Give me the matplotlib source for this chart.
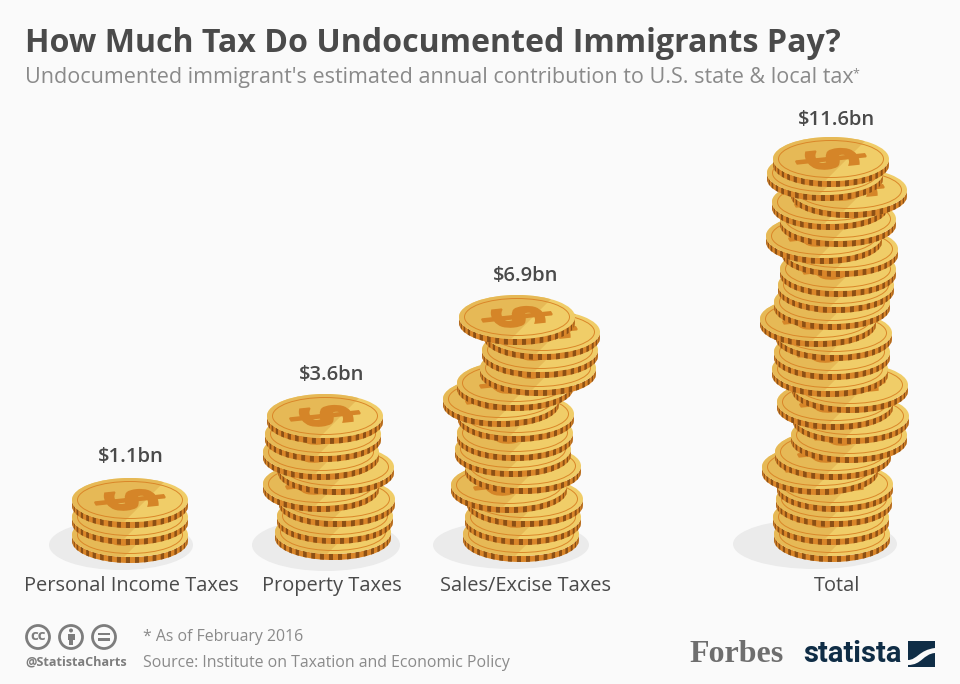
import numpy as np
import matplotlib
matplotlib.use('Agg')
import matplotlib.pyplot as plt
from matplotlib.patches import Ellipse, Circle, Polygon, PathPatch, Rectangle
from matplotlib.path import Path
from matplotlib.textpath import TextPath
from matplotlib.font_manager import FontProperties
from matplotlib.transforms import Affine2D

categories = ['Personal Income Taxes', 'Property Taxes', 'Sales/Excise Taxes', 'Total']
values = [1.1, 3.6, 6.9, 11.6]
coin_counts = [3, 8, 14, 24]

# layout, top coin first
label_x = [131, 332, 526, 837]
label_y = [457, 375, 276, 120]
coin_x = [
    [130, 130, 130],
    [325, 323, 321, 336, 321, 337, 335, 333],
    [517, 542, 540, 538, 515, 501, 516, 515, 513, 523, 509, 525, 523, 521],
    [831, 825, 849, 830, 838, 824, 840, 838, 836, 832, 818, 834, 832, 830,
     850, 835, 851, 849, 833, 820, 835, 834, 831, 832],
]
coin_bottom = [
    [528, 545, 563],
    [444, 462, 480, 495, 512, 527, 544, 560],
    [345, 360, 378, 396, 411, 427, 442, 461, 477, 494, 513, 527, 545, 562],
    [187, 201, 218, 230, 247, 264, 277, 297, 313, 330, 347, 361, 380, 397,
     413, 430, 444, 463, 480, 495, 512, 527, 545, 562],
]
shadows = [(121, 545, 144, 50), (326, 545, 148, 52), (511, 545, 156, 48), (815, 544, 164, 50)]

BG = '#fafafa'
DARK = '#4a4a4a'
GREY = '#8a8a8a'
FACE = '#f0cd68'
SHADE = '#e6b956'
ORANGE = '#da8629'
BROWN = '#8c5015'
A, B, RIM = 58, 22, 6

dollar_path = TextPath((0, 0), '$', size=1, prop=FontProperties(family='DejaVu Sans', weight='bold'))


def draw_dollar(ax, cx, cy):
    box = dollar_path.get_extents()
    tr = (Affine2D()
          .translate(-(box.x0 + box.x1) / 2, -(box.y0 + box.y1) / 2)
          .rotate_deg(-76)
          .scale(78, -33)
          .translate(cx, cy))
    ax.add_patch(PathPatch(tr.transform_path(dollar_path), fc='#d58528', ec='#d58528', lw=1.3))


def draw_coin(ax, cx, cy):
    # rim, lower half of the ellipse with stripes
    t = np.linspace(0, np.pi, 60)
    top = np.column_stack([cx + A * np.cos(t), cy + B * np.sin(t)])
    ax.add_patch(Polygon(np.vstack([top, top[::-1] + [0, RIM]]), fc=ORANGE, ec='none'))
    edges = np.linspace(0, np.pi, 21)
    for a0, a1 in zip(edges[:-1], edges[1:]):
        tt = np.linspace(a0, a0 + (a1 - a0) * 0.45, 4)
        seg = np.column_stack([cx + A * np.cos(tt), cy + B * np.sin(tt)])
        ax.add_patch(Polygon(np.vstack([seg, seg[::-1] + [0, RIM]]), fc=BROWN, ec='none'))
    # face
    face = Ellipse((cx, cy), 2 * A, 2 * B, fc=FACE, ec='none')
    ax.add_patch(face)
    shade = Polygon([(cx - 62, cy - 26), (cx + 42, cy - 26), (cx - 8, cy + 24), (cx - 62, cy + 24)],
                    fc=SHADE, ec='none')
    ax.add_patch(shade)
    shade.set_clip_path(face)
    ax.add_patch(Ellipse((cx, cy), 2 * A - 11, 2 * B - 7, fc='none', ec=ORANGE, lw=0.7))
    draw_dollar(ax, cx, cy)


def draw_stacks(ax):
    for (sx, sy, sw, sh) in shadows:
        ax.add_patch(Ellipse((sx, sy), sw, sh, fc='#ebebeb', ec='none'))
    for xs, ys, n in zip(coin_x, coin_bottom, coin_counts):
        # bottom coin first, so upper ones cover it
        for i in range(n - 1, -1, -1):
            draw_coin(ax, xs[i], ys[i] - B - RIM)


def draw_footer(ax):
    for x in (38, 71, 104):
        ax.add_patch(Circle((x, 637), 11.5, fc='none', ec='#7d7d7d', lw=2))
    ax.text(38, 636.5, 'cc', fontsize=11, fontweight='bold', color='#7d7d7d', family='Open Sans',
            ha='center', va='center')
    ax.add_patch(Circle((71, 630.5), 2, fc='#7d7d7d', ec='none'))
    ax.add_patch(Rectangle((67.5, 633.5), 7, 6.5, fc='#7d7d7d', ec='none'))
    ax.add_patch(Rectangle((69, 639), 4, 6, fc='#7d7d7d', ec='none'))
    ax.add_patch(Rectangle((98, 632.5), 12, 2.5, fc='#7d7d7d', ec='none'))
    ax.add_patch(Rectangle((98, 638), 12, 2.5, fc='#7d7d7d', ec='none'))
    ax.text(25, 662, '@StatistaCharts', fontsize=9.1, fontweight='bold', color='#7d7d7d',
            family='Open Sans', va='center')
    ax.text(143, 637, '* As of February 2016', fontsize=11.4, color=GREY, family='Open Sans', va='center')
    ax.text(143, 663, 'Source: Institute on Taxation and Economic Policy', fontsize=11.4, color=GREY,
            family='Open Sans', va='center')

    ax.text(689, 655, 'Forbes', fontsize=23, fontweight='bold', color='#6e6e6e',
            family='Liberation Serif', va='center')
    ax.text(803, 654, 'statista', fontsize=21, fontweight='bold', color='#0f2d46',
            family=['Liberation Sans Narrow', 'Roboto'], va='center')
    ax.add_patch(Rectangle((908, 641), 27, 26, fc='#0f2d46', ec='none'))
    verts = [(908, 660), (917, 660), (919, 650), (935, 648), (935, 653), (923, 654), (922, 665), (908, 665), (908, 660)]
    codes = [Path.MOVETO, Path.CURVE4, Path.CURVE4, Path.CURVE4, Path.LINETO, Path.CURVE4, Path.CURVE4,
             Path.CURVE4, Path.CLOSEPOLY]
    ax.add_patch(PathPatch(Path(verts, codes), fc=BG, ec='none'))


def main():
    fig = plt.figure(figsize=(9.6, 6.84), dpi=100, facecolor=BG)
    ax = fig.add_axes([0, 0, 1, 1])
    ax.set_xlim(0, 960)
    ax.set_ylim(684, 0)
    ax.axis('off')

    ax.text(25, 44, 'How Much Tax Do Undocumented Immigrants Pay?', fontsize=23.1, fontweight='bold',
            color=DARK, family='Open Sans', va='center')
    ax.text(25, 78, "Undocumented immigrant's estimated annual contribution to U.S. state & local tax",
            fontsize=15.5, color=GREY, family='Open Sans', va='center')
    ax.text(852, 74, '*', fontsize=9, color=GREY, family='Open Sans', va='center')

    draw_stacks(ax)

    for x, y, name, val in zip(label_x, label_y, categories, values):
        ax.text(x, 586, name, fontsize=14.4, color=DARK, family='Open Sans', ha='center', va='center')
        ax.text(x, y, f'${val}bn', fontsize=14.6, fontweight='semibold', color=DARK,
                family='Open Sans', ha='center', va='center', parse_math=False)

    draw_footer(ax)
    fig.savefig('out.png', dpi=100, facecolor=BG)


if __name__ == '__main__':
    main()
